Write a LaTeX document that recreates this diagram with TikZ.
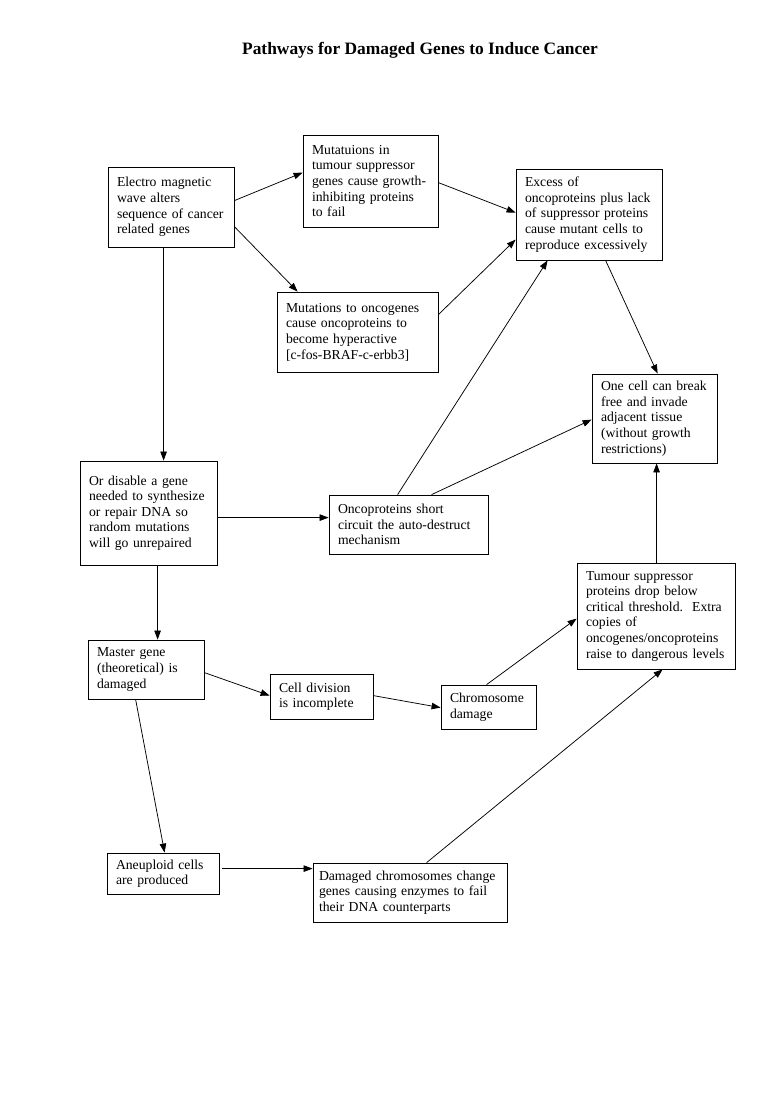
\documentclass[tikz,border=0pt]{standalone}
\usepackage{fontspec}
\setmainfont{Liberation Serif}
\usetikzlibrary{arrows.meta,calc}
\tikzset{
  box/.style 2 args={draw, line width=0.8pt, align=left, text width=#1pt,
    inner xsep=9pt, inner ysep=2pt, minimum height=#2pt,
    font=\fontsize{13.7}{15.6}\selectfont},
  conn/.style={-{Triangle[length=9pt,width=6.5pt]}, line width=0.75pt},
  titlefont/.style={font=\fontsize{17.4}{20}\selectfont\bfseries}
}
\begin{document}
\begin{tikzpicture}[x=1pt,y=-1pt]
\fill[white] (0,0) rectangle (779,1109);
\useasboundingbox (0,0) rectangle (779,1109);

\node[titlefont] (title) at (420,50) {Pathways for Damaged Genes to Induce Cancer};

\node[box={108}{80}] (E) at (171,207) {Electro magnetic\\wave alters\\sequence of cancer\\related genes};
\node[box={117}{92}] (M1) at (370.5,181) {Mutatuions in\\tumour suppressor\\genes cause growth-\\inhibiting proteins\\to fail};
\node[box={143}{80}] (M2) at (357.5,332) {Mutations to oncogenes\\cause oncoproteins to\\become hyperactive\\{[}c-fos-BRAF-c-erbb3{]}};
\node[box={128}{91}] (X) at (589,214.5) {Excess of\\oncoproteins plus lack\\of suppressor proteins\\cause mutant cells to\\reproduce excessively};
\node[box={107}{89}] (O) at (654.5,418.5) {One cell can break\\free and invade\\adjacent tissue\\(without growth\\restrictions)};
\node[box={119}{104}] (D) at (148.5,513) {Or disable a gene\\needed to synthesize\\or repair DNA so\\random mutations\\will go unrepaired};
\node[box={141}{59}] (S) at (408.5,524.5) {Oncoproteins short\\circuit the auto-destruct\\mechanism};
\node[box={140}{106}] (T) at (656,616) {Tumour suppressor\\proteins drop below\\critical threshold.\ \ Extra\\copies of\\oncogenes/oncoproteins\\raise to dangerous levels};
\node[box={98}{59}] (MG) at (146,669.5) {Master gene\\(theoretical) is\\damaged};
\node[box={85}{45}] (C) at (321.5,696.5) {Cell division\\is incomplete};
\node[box={77}{44}] (CH) at (488.5,707) {Chromosome\\damage};
\node[box={94}{41}] (A) at (163,873.5) {Aneuploid cells\\are produced};
\node[box={182}{59}, inner xsep=6pt] (DC) at (410,892.5) {Damaged chromosomes change\\genes causing enzymes to fail\\their DNA counterparts};

% connectors
\draw[conn] ($(E.north east)+(0,34)$) -- ($(M1.north west)+(0,38)$);
\draw[conn] ($(E.north east)+(0,60)$) -- ($(M2.north west)+(21,0)$);
\draw[conn] ($(E.south west)+(56,0)$) -- ($(D.north west)+(84,0)$);
\draw[conn] ($(M1.north east)+(0,48)$) -- ($(X.north west)+(0,44)$);
\draw[conn] ($(M2.north east)+(0,23)$) -- ($(X.north west)+(0,71)$);
\draw[conn] ($(X.south west)+(90,0)$) -- ($(O.north west)+(66,0)$);
\draw[conn] ($(D.north east)+(0,57)$) -- ($(S.north west)+(0,23)$);
\draw[conn] ($(S.north west)+(69,0)$) -- ($(X.south west)+(32,0)$);
\draw[conn] ($(S.north west)+(103,0)$) -- ($(O.north west)+(0,46)$);
\draw[conn] ($(T.north west)+(80,0)$) -- ($(O.south west)+(65,0)$);
\draw[conn] ($(D.south west)+(78,0)$) -- ($(MG.north west)+(70,0)$);
\draw[conn] ($(MG.north east)+(0,33)$) -- ($(C.north west)+(0,22)$);
\draw[conn] ($(C.north east)+(0,22)$) -- ($(CH.north west)+(0,23)$);
\draw[conn] ($(CH.north west)+(46,0)$) -- ($(T.north west)+(0,56)$);
\draw[conn] ($(MG.south west)+(48,0)$) -- ($(A.north west)+(58,0)$);
\draw[conn] ($(A.north east)+(3,16)$) -- ($(DC.north west)+(0,6)$);
\draw[conn] ($(DC.north west)+(114,0)$) -- ($(T.south west)+(86,0)$);
\end{tikzpicture}
\end{document}
